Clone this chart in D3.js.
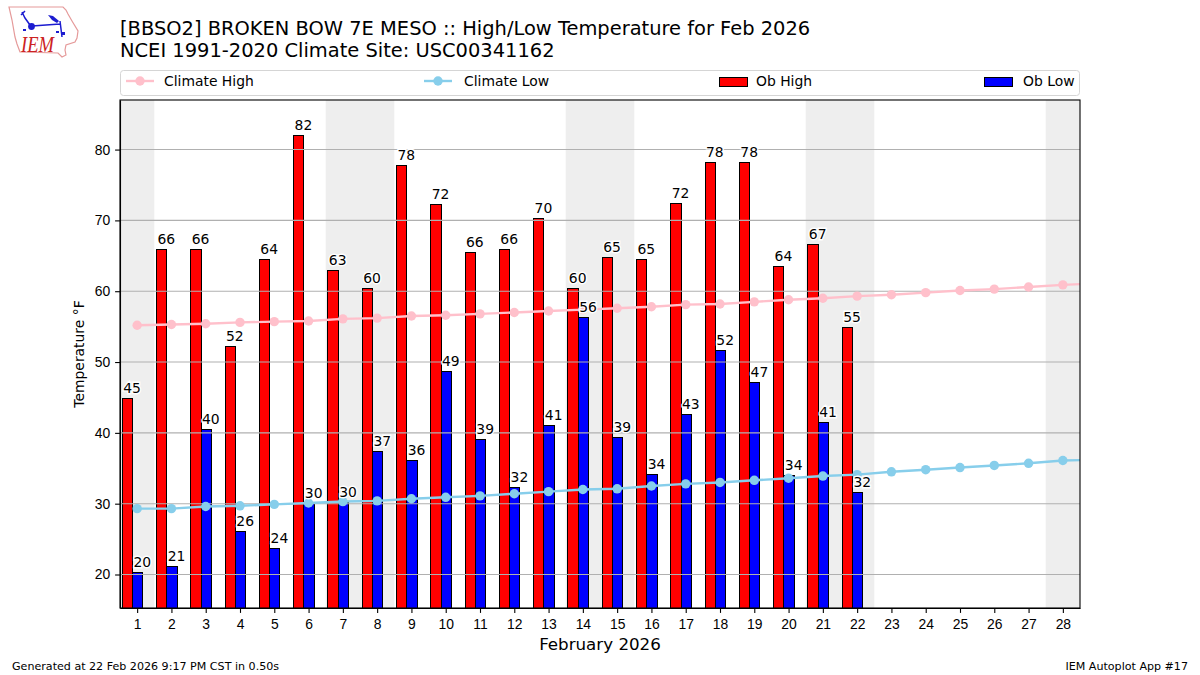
<!DOCTYPE html>
<html lang="en">
  <head>
    <meta charset="UTF-8" />
    <title>BBSO2 High/Low Temperature Feb 2026</title>
    <script src="https://d3js.org/d3.v7.min.js"></script>
    <style>
      body {
        margin: 0;
        background: #ffffff;
      }
      svg {
        display: block;
        font-family: "DejaVu Sans", sans-serif;
      }
      .axis text {
        font-size: 13.9px;
        fill: #000;
      }
      .axis line,
      .axis path {
        stroke: #000;
        stroke-width: 1.1px;
      }
      .val {
        font-size: 13.9px;
        text-anchor: middle;
        fill: #000;
        stroke: #fff;
        stroke-width: 2.8px;
        paint-order: stroke;
      }
    </style>
  </head>
  <body>
    <svg id="chart" width="1200" height="675"></svg>

    <script>
      const days = d3.range(1, 29);
      // the climate lines run one day past the right edge and get clipped
      const climateDays = d3.range(1, 30);
      const weekends = [1, 7, 8, 14, 15, 21, 22, 28];
      const yTicks = [20, 30, 40, 50, 60, 70, 80];

      const obHigh = [44.9, 65.9, 66, 52.2, 64.5, 82, 63, 60.4, 77.8, 72.3, 65.5, 66, 70.3, 60.4, 64.8, 64.5, 72.4, 78.3, 78.3, 63.5, 66.6, 55];
      const obLow = [20.3, 21.2, 40.5, 26.1, 23.7, 30.1, 30.3, 37.4, 36.1, 48.7, 39.1, 32.3, 41.1, 56.3, 39.4, 34.2, 42.6, 51.7, 47.2, 34, 41.5, 31.6];
      const highLabels = [45, 66, 66, 52, 64, 82, 63, 60, 78, 72, 66, 66, 70, 60, 65, 65, 72, 78, 78, 64, 67, 55];
      const lowLabels = [20, 21, 40, 26, 24, 30, 30, 37, 36, 49, 39, 32, 41, 56, 39, 34, 43, 52, 47, 34, 41, 32];
      const climateHigh = [55.2, 55.3, 55.4, 55.6, 55.7, 55.8, 56.1, 56.2, 56.5, 56.6, 56.8, 57, 57.2, 57.4, 57.6, 57.8, 58.1, 58.2, 58.5, 58.8, 59, 59.3, 59.5, 59.8, 60.1, 60.3, 60.6, 60.9, 61.1];
      const climateLow = [29.3, 29.3, 29.6, 29.7, 29.9, 30.1, 30.3, 30.4, 30.7, 30.9, 31.1, 31.4, 31.7, 32, 32.1, 32.5, 32.8, 33, 33.3, 33.6, 33.9, 34.1, 34.5, 34.8, 35.1, 35.4, 35.7, 36.1, 36.2];

      const margin = {top: 100, right: 120, bottom: 67, left: 120};
      const width = 1200 - margin.left - margin.right;
      const height = 675 - margin.top - margin.bottom;

      const svg = d3.select("#chart");

      const x = d3.scaleLinear().domain([0.5, 28.5]).range([0, width]);
      const y = d3.scaleLinear().domain([15.27, 87]).range([height, 0]);
      // bar edges land on whole pixels, same as the original's snapping
      const snap = (v) => Math.round(v) + 0.5;

      // logo, hand traced
      const logo = svg.append("g");
      logo
        .append("path")
        .attr("d", "M9,7 L63,7 L66,10 L68,14 L72,21 L78,31 L77,38 L75,42 L66,45 L65,50 L66,55 L62,57 L58,53 L20,52 L17,44 L15,37 L12,20 Z")
        .attr("fill", "#fff")
        .attr("stroke", "#e59a9a")
        .attr("stroke-width", 1.2);
      logo
        .append("path")
        .attr("d", "M32,26 L60,24 M60,21 L62,37 M22,12 L25,18 L30,25 M21,15 L25,11")
        .attr("fill", "none")
        .attr("stroke", "#1c1cd0")
        .attr("stroke-width", 1.5);
      logo.append("circle").attr("cx", 31.5).attr("cy", 26.5).attr("r", 3.4).attr("fill", "#1c1cd0");
      logo.append("path").attr("d", "M48,15 L53,16 L59,21 L57,23 L52,20 Z").attr("fill", "#1c1cd0");
      logo.append("path").attr("d", "M23,29 h3 v2 h-3 Z M56,31 h3 v2 h-3 Z M62,32 h3 v3 h-3 Z").attr("fill", "#1c1cd0");
      logo
        .append("text")
        .attr("x", 21)
        .attr("y", 52)
        .attr("font-family", "Liberation Serif")
        .attr("font-style", "italic")
        .attr("font-size", 23)
        .attr("textLength", 33)
        .attr("lengthAdjust", "spacingAndGlyphs")
        .attr("fill", "#cc2222")
        .text("IEM");

      // titles
      svg.append("text").attr("x", 120).attr("y", 35).attr("font-size", 19.44).text("[BBSO2] BROKEN BOW 7E MESO :: High/Low Temperature for Feb 2026");
      svg.append("text").attr("x", 120).attr("y", 57).attr("font-size", 19.44).text("NCEI 1991-2020 Climate Site: USC00341162");

      // legend
      const legend = svg.append("g");
      legend
        .append("rect")
        .attr("x", 120.5)
        .attr("y", 70.5)
        .attr("width", 959)
        .attr("height", 25)
        .attr("rx", 3)
        .attr("fill", "#fff")
        .attr("stroke", "#d5d5d5");
      [
        {name: "Climate High", color: "pink", hx: 126, tx: 164},
        {name: "Climate Low", color: "skyblue", hx: 424, tx: 464},
      ].forEach((d) => {
        legend.append("line").attr("x1", d.hx).attr("x2", d.hx + 28).attr("y1", 81).attr("y2", 81).attr("stroke", d.color).attr("stroke-width", 2.4);
        legend.append("circle").attr("cx", d.hx + 14).attr("cy", 81).attr("r", 4.7).attr("fill", d.color);
        legend.append("text").attr("x", d.tx).attr("y", 86).attr("font-size", 13.9).text(d.name);
      });
      [
        {name: "Ob High", color: "red", hx: 719, tx: 756},
        {name: "Ob Low", color: "blue", hx: 984, tx: 1023},
      ].forEach((d) => {
        legend.append("rect").attr("x", d.hx + 0.5).attr("y", 77.5).attr("width", 28).attr("height", 9).attr("fill", d.color).attr("stroke", "#000");
        legend.append("text").attr("x", d.tx).attr("y", 86).attr("font-size", 13.9).text(d.name);
      });

      svg
        .append("defs")
        .append("clipPath")
        .attr("id", "plot-clip")
        .append("rect")
        .attr("width", width)
        .attr("height", height);

      const g = svg.append("g").attr("transform", `translate(${margin.left},${margin.top})`);
      const plot = g.append("g").attr("clip-path", "url(#plot-clip)");

      // weekend shading
      plot
        .selectAll(".weekend")
        .data(weekends)
        .join("rect")
        .attr("class", "weekend")
        .attr("x", (d) => x(d - 0.5))
        .attr("width", x(1) - x(0))
        .attr("y", 0)
        .attr("height", height)
        .attr("fill", "#eeeeee");

      // bars
      plot
        .selectAll(".high")
        .data(obHigh)
        .join("rect")
        .attr("class", "high")
        .attr("x", (d, i) => snap(x(days[i] - 0.45)))
        .attr("width", (d, i) => snap(x(days[i] - 0.15)) - snap(x(days[i] - 0.45)))
        .attr("y", (d) => snap(y(d)))
        .attr("height", (d) => height - snap(y(d)) + 1)
        .attr("fill", "red")
        .attr("stroke", "#000");

      plot
        .selectAll(".low")
        .data(obLow)
        .join("rect")
        .attr("class", "low")
        .attr("x", (d, i) => snap(x(days[i] - 0.15)))
        .attr("width", (d, i) => snap(x(days[i] + 0.15)) - snap(x(days[i] - 0.15)))
        .attr("y", (d) => snap(y(d)))
        .attr("height", (d) => height - snap(y(d)) + 1)
        .attr("fill", "blue")
        .attr("stroke", "#000");

      // grid sits on top of the bars in the original
      plot
        .selectAll(".grid")
        .data(yTicks)
        .join("line")
        .attr("class", "grid")
        .attr("x1", 0)
        .attr("x2", width)
        .attr("y1", (d) => y(d))
        .attr("y2", (d) => y(d))
        .attr("stroke", "#b0b0b0")
        .attr("stroke-width", 1.1);

      // climate lines
      const line = d3
        .line()
        .x((d, i) => x(climateDays[i]))
        .y((d) => y(d));

      [
        {values: climateHigh, color: "pink"},
        {values: climateLow, color: "skyblue"},
      ].forEach((s) => {
        plot.append("path").attr("d", line(s.values)).attr("fill", "none").attr("stroke", s.color).attr("stroke-width", 2.4);
        plot
          .selectAll(null)
          .data(s.values)
          .join("circle")
          .attr("cx", (d, i) => x(climateDays[i]))
          .attr("cy", (d) => y(d))
          .attr("r", 4.7)
          .attr("fill", s.color);
      });

      // value labels
      g.selectAll(".val-high")
        .data(obHigh)
        .join("text")
        .attr("class", "val val-high")
        .attr("x", (d, i) => x(days[i] - 0.15))
        .attr("y", (d) => y(d) - 5)
        .text((d, i) => highLabels[i]);

      g.selectAll(".val-low")
        .data(obLow)
        .join("text")
        .attr("class", "val val-low")
        .attr("x", (d, i) => x(days[i] + 0.15))
        .attr("y", (d) => y(d) - 5)
        .text((d, i) => lowLabels[i]);

      // axes
      g.append("g")
        .attr("class", "axis")
        .attr("transform", `translate(0,${height})`)
        .call(d3.axisBottom(x).tickValues(days).tickFormat(d3.format("d")).tickSizeInner(4.9).tickSizeOuter(0).tickPadding(5.9));

      g.append("g")
        .attr("class", "axis")
        .call(d3.axisLeft(y).tickValues(yTicks).tickSizeInner(4.9).tickSizeOuter(0).tickPadding(4.9));

      g.append("rect")
        .attr("width", width)
        .attr("height", height)
        .attr("fill", "none")
        .attr("stroke", "#000")
        .attr("stroke-width", 1.1);

      // axis titles
      svg
        .append("text")
        .attr("text-anchor", "middle")
        .attr("x", 600)
        .attr("y", 650)
        .attr("font-size", 16.7)
        .text("February 2026");

      svg
        .append("text")
        .attr("text-anchor", "middle")
        .attr("transform", "translate(84,354) rotate(-90)")
        .attr("font-size", 13.9)
        .text("Temperature °F");

      // footer
      svg.append("text").attr("x", 12).attr("y", 670).attr("font-size", 11.1).text("Generated at 22 Feb 2026 9:17 PM CST in 0.50s");
      svg.append("text").attr("x", 1188).attr("y", 670).attr("text-anchor", "end").attr("font-size", 11.1).text("IEM Autoplot App #17");
    </script>
  </body>
</html>
